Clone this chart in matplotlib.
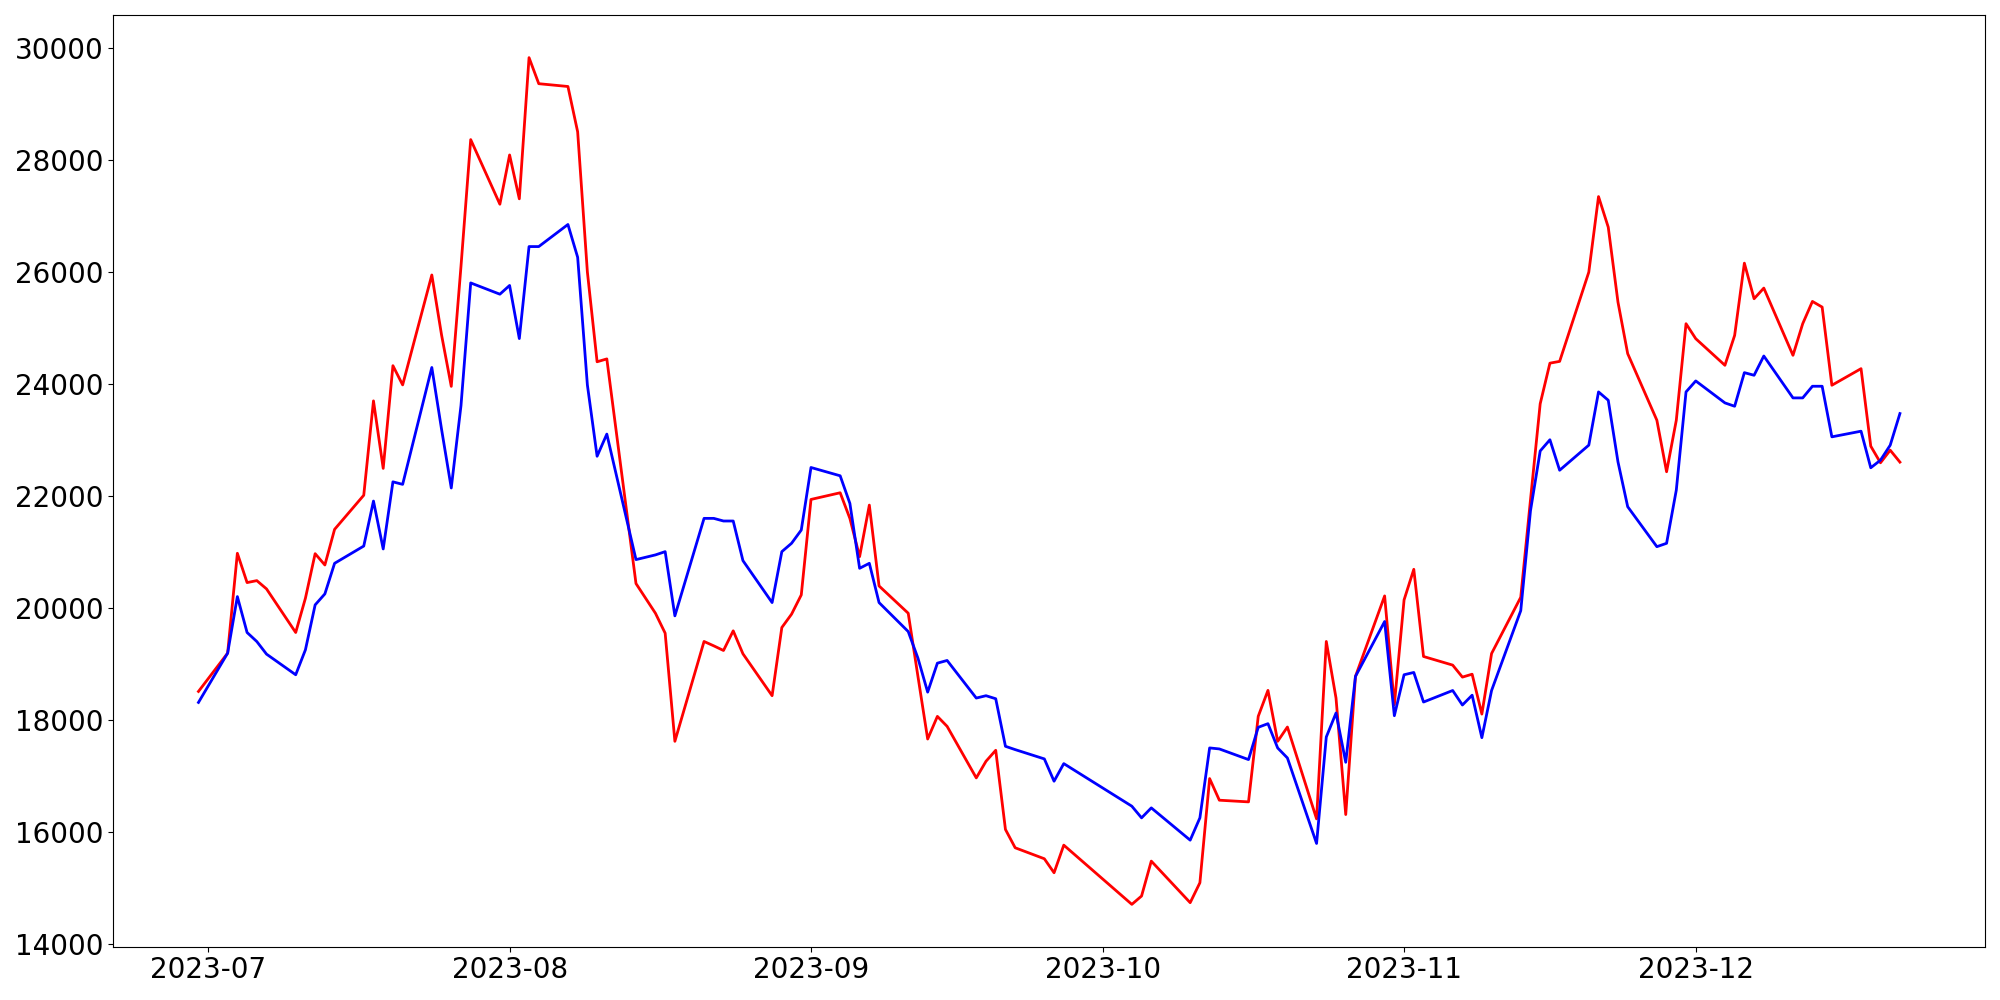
import numpy as np
import pandas as pd
from matplotlib import pyplot as plt

# trading days (KRX calendar, 2023-06-30 .. 2023-12-22)
dates = [
    '2023-06-30', '2023-07-03', '2023-07-04', '2023-07-05', '2023-07-06', '2023-07-07',
    '2023-07-10', '2023-07-11', '2023-07-12', '2023-07-13', '2023-07-14',
    '2023-07-17', '2023-07-18', '2023-07-19', '2023-07-20', '2023-07-21',
    '2023-07-24', '2023-07-25', '2023-07-26', '2023-07-27', '2023-07-28',
    '2023-07-31', '2023-08-01', '2023-08-02', '2023-08-03', '2023-08-04',
    '2023-08-07', '2023-08-08', '2023-08-09', '2023-08-10', '2023-08-11',
    '2023-08-14', '2023-08-16', '2023-08-17', '2023-08-18',
    '2023-08-21', '2023-08-22', '2023-08-23', '2023-08-24', '2023-08-25',
    '2023-08-28', '2023-08-29', '2023-08-30', '2023-08-31', '2023-09-01',
    '2023-09-04', '2023-09-05', '2023-09-06', '2023-09-07', '2023-09-08',
    '2023-09-11', '2023-09-12', '2023-09-13', '2023-09-14', '2023-09-15',
    '2023-09-18', '2023-09-19', '2023-09-20', '2023-09-21', '2023-09-22',
    '2023-09-25', '2023-09-26', '2023-09-27',
    '2023-10-04', '2023-10-05', '2023-10-06',
    '2023-10-10', '2023-10-11', '2023-10-12', '2023-10-13',
    '2023-10-16', '2023-10-17', '2023-10-18', '2023-10-19', '2023-10-20',
    '2023-10-23', '2023-10-24', '2023-10-25', '2023-10-26', '2023-10-27',
    '2023-10-30', '2023-10-31', '2023-11-01', '2023-11-02', '2023-11-03',
    '2023-11-06', '2023-11-07', '2023-11-08', '2023-11-09', '2023-11-10',
    '2023-11-13', '2023-11-14', '2023-11-15', '2023-11-16', '2023-11-17',
    '2023-11-20', '2023-11-21', '2023-11-22', '2023-11-23', '2023-11-24',
    '2023-11-27', '2023-11-28', '2023-11-29', '2023-11-30', '2023-12-01',
    '2023-12-04', '2023-12-05', '2023-12-06', '2023-12-07', '2023-12-08',
    '2023-12-11', '2023-12-12', '2023-12-13', '2023-12-14', '2023-12-15',
    '2023-12-18', '2023-12-19', '2023-12-20', '2023-12-21', '2023-12-22',
]

red_values = [
    18513, 19197, 20979, 20456, 20491, 20343,
    19565, 20177, 20972, 20770, 21406,
    22015, 23699, 22494, 24327, 23984,
    25946, 24878, 23958, 26100, 28362,
    27209, 28088, 27305, 29825, 29360,
    29310, 28501, 26000, 24397, 24448,
    20439, 19909, 19553, 17623,
    19405, 19327, 19244, 19595, 19185,
    18437, 19654, 19892, 20236, 21940,
    22059, 21601, 20919, 21839, 20396,
    19909, 18781, 17664, 18068, 17890,
    16970, 17267, 17463, 16050, 15723,
    15527, 15277, 15770,
    14713, 14862, 15485,
    14743, 15099, 16958, 16572,
    16542, 18069, 18532, 17623, 17878,
    16239, 19405, 18395, 16316, 18781,
    20218, 18276, 20147, 20693, 19137,
    18983, 18769, 18821, 18109, 19190,
    20194, 21930, 23647, 24372, 24404,
    25997, 27345, 26799, 25462, 24542,
    23354, 22434, 23354, 25076, 24809,
    24334, 24868, 26157, 25522, 25712,
    24512, 25076, 25474, 25373, 23978,
    24274, 22891, 22594, 22819, 22606,
]

blue_values = [
    18317, 19197, 20206, 19565, 19404, 19179,
    18811, 19256, 20058, 20254, 20800,
    21108, 21911, 21056, 22254, 22209,
    24295, 23194, 22144, 23614, 25804,
    25603, 25759, 24811, 26453, 26453,
    26847, 26262, 23984, 22711, 23106,
    20866, 20950, 21008, 19862,
    21602, 21602, 21555, 21555, 20848,
    20099, 21008, 21157, 21394, 22510,
    22362, 21869, 20711, 20800, 20099,
    19582, 19107, 18501, 19018, 19066,
    18395, 18437, 18383, 17534, 17475,
    17309, 16911, 17225,
    16465, 16257, 16435,
    15859, 16257, 17505, 17487,
    17297, 17873, 17938, 17504, 17326,
    15800, 17700, 18128, 17249, 18781,
    19761, 18080, 18811, 18852, 18324,
    18530, 18271, 18446, 17688, 18530,
    19955, 21736, 22805, 23005, 22461,
    22909, 23859, 23710, 22611, 21810,
    21097, 21157, 22107, 23859, 24055,
    23663, 23603, 24203, 24156, 24500,
    23752, 23752, 23960, 23960, 23057,
    23158, 22505, 22641, 22908, 23473,
]

x = pd.to_datetime(dates)

fig, ax = plt.subplots(figsize=(20, 10), dpi=100)
ax.plot(x, red_values, color='red', linewidth=2)
ax.plot(x, blue_values, color='blue', linewidth=2)
ax.tick_params(axis='both', labelsize=20)
fig.subplots_adjust(left=0.0567, right=0.9925, top=0.9847, bottom=0.0533)
plt.savefig('out.png')
